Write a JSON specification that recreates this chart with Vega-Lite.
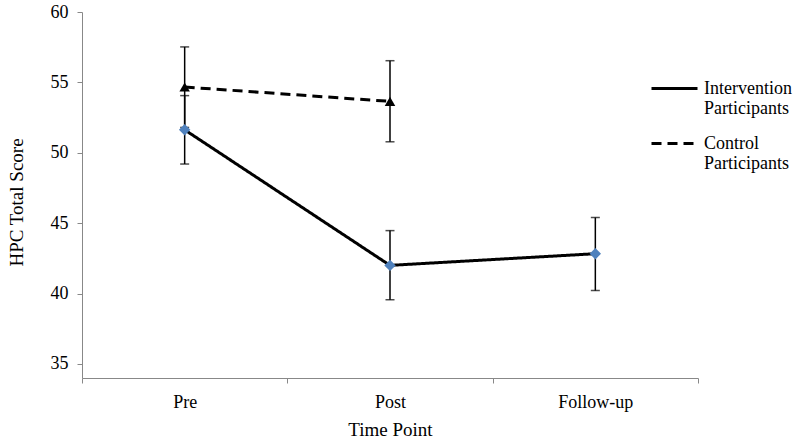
{
  "$schema": "https://vega.github.io/schema/vega-lite/v6.json",
  "width": 616,
  "height": 366,
  "autosize": {"type": "none"},
  "padding": {"left": 82, "top": 12, "right": 102, "bottom": 63},
  "background": "white",
  "config": {
    "view": {"stroke": null},
    "font": "Liberation Serif",
    "axis": {"labelFont": "Liberation Serif", "titleFont": "Liberation Serif", "labelColor": "black", "titleColor": "black", "titleFontWeight": "normal", "domainColor": "#888888", "tickColor": "#888888", "grid": false},
    "legend": {"labelFont": "Liberation Serif", "labelFontSize": 18, "labelColor": "black"}
  },
  "data": {
    "values": [
      {"group": "Intervention Participants", "time": "Pre", "mean": 51.63, "lo": 49.2, "hi": 54.06},
      {"group": "Intervention Participants", "time": "Post", "mean": 42.0, "lo": 39.56, "hi": 44.47},
      {"group": "Intervention Participants", "time": "Follow-up", "mean": 42.83, "lo": 40.21, "hi": 45.4},
      {"group": "Control Participants", "time": "Pre", "mean": 54.67, "lo": 51.8, "hi": 57.52},
      {"group": "Control Participants", "time": "Post", "mean": 53.65, "lo": 50.78, "hi": 56.54}
    ]
  },
  "encoding": {
    "x": {
      "field": "time", "type": "nominal", "sort": ["Pre", "Post", "Follow-up"],
      "scale": {"type": "band", "paddingInner": 0, "paddingOuter": 0},
      "axis": {"title": "Time Point", "labelAngle": 0, "labelFontSize": 18, "titleFontSize": 19, "tickBand": "extent", "tickSize": 5, "labelPadding": 10, "titleY": 57, "titleBaseline": "alphabetic"}
    }
  },
  "layer": [
    {
      "mark": {"type": "errorbar", "ticks": {"size": 9, "thickness": 1.5, "color": "black"}, "thickness": 1.5, "color": "black"},
      "encoding": {
        "y": {"field": "lo", "type": "quantitative", "scale": {"domain": [35, 60]},
          "axis": {"title": "HPC Total Score", "values": [35, 40, 45, 50, 55, 60], "labelFontSize": 18, "titleFontSize": 19, "tickSize": 5, "labelPadding": 9, "titleX": -60, "titleY": 190, "titleBaseline": "alphabetic"}},
        "y2": {"field": "hi"},
        "detail": {"field": "group"}
      }
    },
    {
      "mark": {"type": "line", "color": "black", "strokeWidth": 3},
      "encoding": {
        "y": {"field": "mean", "type": "quantitative"},
        "strokeDash": {
          "field": "group", "type": "nominal",
          "scale": {"domain": ["Intervention Participants", "Control Participants"], "range": [[1, 0], [10, 6]]},
          "legend": {
            "title": null, "orient": "none", "legendX": 568, "legendY": 52,
            "symbolType": "stroke", "symbolSize": 2116, "symbolStrokeWidth": 3, "symbolStrokeColor": "black",
            "labelLimit": 200, "labelFont": "Liberation Serif",
            "labelExpr": "split(datum.label, ' ')", "labelBaseline": "middle", "labelOffset": 5, "rowPadding": 1, "padding": 0
          }
        }
      }
    },
    {
      "transform": [{"filter": "datum.group == 'Intervention Participants'"}],
      "mark": {"type": "point", "shape": "diamond", "filled": true, "color": "#4F81BD", "size": 130, "opacity": 1},
      "encoding": {"y": {"field": "mean", "type": "quantitative"}}
    },
    {
      "transform": [{"filter": "datum.group == 'Control Participants'"}],
      "mark": {"type": "point", "shape": "triangle-up", "filled": true, "color": "black", "size": 110, "opacity": 1},
      "encoding": {"y": {"field": "mean", "type": "quantitative"}}
    }
  ]
}
